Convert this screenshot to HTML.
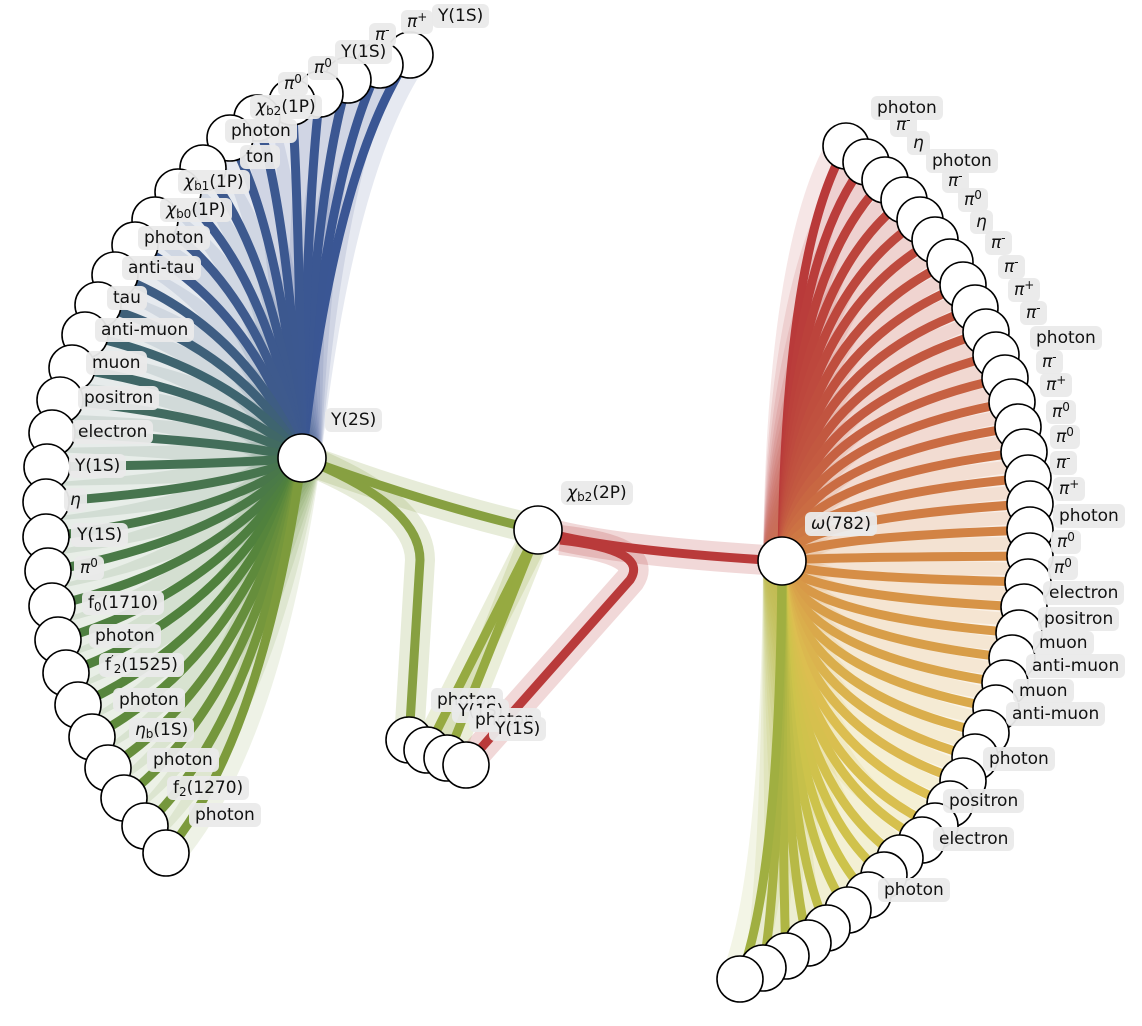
<!DOCTYPE html>
<html><head><meta charset="utf-8"><style>
body{margin:0;background:#fff;}
#w{position:relative;width:1142px;height:1026px;overflow:hidden;font-family:"DejaVu Sans","Liberation Sans",sans-serif;}
svg{position:absolute;left:0;top:0;}
.l{position:absolute;background:rgba(234,234,234,0.95);border-radius:6px;font-size:17px;line-height:24px;height:24px;padding:0 6px;color:#111;white-space:nowrap;}
sub{font-size:12px;vertical-align:-3px;line-height:0}
sup{font-size:12px;vertical-align:6px;line-height:0}
</style></head><body><div id="w">
<svg id="s" width="1142" height="1026" viewBox="0 0 1142 1026">
<g id="bands"></g><g id="lines"></g><g id="nodes"></g>
</svg>
<div class="l" style="left:432px;top:4px">Y(1S)</div>
<div class="l" style="left:401px;top:10px"><i>π</i><sup>+</sup></div>
<div class="l" style="left:369px;top:23px"><i>π</i><sup>-</sup></div>
<div class="l" style="left:335px;top:40px">Y(1S)</div>
<div class="l" style="left:308px;top:56px"><i>π</i><sup>0</sup></div>
<div class="l" style="left:278px;top:72px"><i>π</i><sup>0</sup></div>
<div class="l" style="left:250px;top:95px"><i>χ</i><sub>b2</sub>(1P)</div>
<div class="l" style="left:240px;top:145px">ton</div>
<div class="l" style="left:225px;top:119px">photon</div>
<div class="l" style="left:178px;top:170px"><i>χ</i><sub>b1</sub>(1P)</div>
<div class="l" style="left:160px;top:198px"><i>χ</i><sub>b0</sub>(1P)</div>
<div class="l" style="left:138px;top:226px">photon</div>
<div class="l" style="left:122px;top:256px">anti-tau</div>
<div class="l" style="left:107px;top:286px">tau</div>
<div class="l" style="left:95px;top:318px">anti-muon</div>
<div class="l" style="left:86px;top:351px">muon</div>
<div class="l" style="left:78px;top:386px">positron</div>
<div class="l" style="left:72px;top:420px">electron</div>
<div class="l" style="left:69px;top:454px">Y(1S)</div>
<div class="l" style="left:64px;top:488px"><i>η</i></div>
<div class="l" style="left:71px;top:523px">Y(1S)</div>
<div class="l" style="left:74px;top:556px"><i>π</i><sup>0</sup></div>
<div class="l" style="left:82px;top:591px">f<sub>0</sub>(1710)</div>
<div class="l" style="left:89px;top:624px">photon</div>
<div class="l" style="left:99px;top:653px">f<sup>′</sup><sub>2</sub>(1525)</div>
<div class="l" style="left:113px;top:688px">photon</div>
<div class="l" style="left:129px;top:718px"><i>η</i><sub>b</sub>(1S)</div>
<div class="l" style="left:147px;top:748px">photon</div>
<div class="l" style="left:167px;top:776px">f<sub>2</sub>(1270)</div>
<div class="l" style="left:189px;top:803px">photon</div>
<div class="l" style="left:325px;top:408px">Y(2S)</div>
<div class="l" style="left:561px;top:481px"><i>χ</i><sub>b2</sub>(2P)</div>
<div class="l" style="left:805px;top:512px"><i>ω</i>(782)</div>
<div class="l" style="left:431px;top:688px">photon</div>
<div class="l" style="left:452px;top:699px">Y(1S)</div>
<div class="l" style="left:469px;top:708px">photon</div>
<div class="l" style="left:489px;top:717px">Y(1S)</div>
</div>
<script>
(function(){
var W=document.getElementById('w');
var rl=[["photon",871,96],["<i>π</i><sup>-</sup>",890,113],["<i>η</i>",907,131],["photon",926,149],["<i>π</i><sup>-</sup>",942,169],["<i>π</i><sup>0</sup>",958,188],["<i>η</i>",970,210],["<i>π</i><sup>-</sup>",985,231],["<i>π</i><sup>-</sup>",998,255],["<i>π</i><sup>+</sup>",1008,278],["<i>π</i><sup>-</sup>",1020,301],["photon",1030,326],["<i>π</i><sup>-</sup>",1036,350],["<i>π</i><sup>+</sup>",1040,373],["<i>π</i><sup>0</sup>",1046,400],["<i>π</i><sup>0</sup>",1050,425],["<i>π</i><sup>-</sup>",1050,451],["<i>π</i><sup>+</sup>",1053,477],["photon",1053,504],["<i>π</i><sup>0</sup>",1051,530],["<i>π</i><sup>0</sup>",1048,556],["electron",1043,581],["positron",1038,607],["muon",1033,631],["anti-muon",1026,654],["muon",1013,679],["anti-muon",1006,702],["photon",983,747],["positron",943,789],["electron",933,827],["photon",878,878]];
rl.forEach(function(a){var d=document.createElement('div');d.className='l';d.style.left=a[1]+'px';d.style.top=a[2]+'px';d.innerHTML=a[0];W.appendChild(d);});
})();
var NS="http://www.w3.org/2000/svg";
function el(p,t,at){var e=document.createElementNS(NS,t);for(var k in at)e.setAttribute(k,at[k]);document.getElementById(p).appendChild(e);return e;}
function lerp(a,b,t){return a+(b-a)*t;}
function grad(stops,t){for(var i=0;i<stops.length-1;i++){if(t<=stops[i+1][0]){var u=(t-stops[i][0])/(stops[i+1][0]-stops[i][0]);var c=[0,1,2].map(function(j){return Math.round(lerp(stops[i][1][j],stops[i+1][1][j],u));});return 'rgb('+c.join(',')+')';}}var c=stops[stops.length-1][1];return 'rgb('+c.join(',')+')';}
var L=[[410,55],[380,65],[348,80],[320,94],[292,102],[257,118],[230,138],[203,168],[178,192],[155,220],[135,245],[115,275],[98,305],[85,335],[72,368],[60,400],[52,433],[47,467],[46,502],[46,537],[48,571],[52,606],[58,640],[66,673],[78,705],[92,737],[108,768],[124,798],[145,826],[166,853]];
var R=[[846,146],[866,162],[885,180],[904,200],[920,220],[935,240],[950,262],[963,285],[975,308],[986,332],[996,355],[1005,378],[1012,402],[1018,427],[1024,452],[1028,478],[1030,504],[1030,530],[1030,556],[1028,582],[1024,607],[1019,633],[1012,658],[1005,683],[996,708],[986,733],[975,757],[963,781],[950,804],[935,826],[922,840],[900,858],[884,875],[868,895],[848,910],[827,928],[808,943],[786,956],[763,968],[740,979]];
var LS=[[0,[58,86,148]],[0.35,[62,90,140]],[0.45,[62,100,110]],[0.6,[70,115,80]],[0.8,[80,130,60]],[1,[125,155,60]]];
var RS=[[0,[185,58,58]],[0.25,[195,90,65]],[0.5,[215,145,70]],[0.72,[220,190,80]],[0.85,[205,195,75]],[1,[160,175,65]]];
function edge(p,q,col,ctl){var d='M'+p[0]+','+p[1]+' Q'+ctl[0]+','+ctl[1]+' '+q[0]+','+q[1];
el('bands','path',{d:d,stroke:col,'stroke-width':38,fill:'none','stroke-opacity':0.13,'stroke-linecap':'round'});
el('lines','path',{d:d,stroke:col,'stroke-width':9,fill:'none'});}
var Y2=[302,458],CB=[538,530],OM=[782,561];
L.forEach(function(q,i){var t=i/(L.length-1);edge(Y2,q,grad(LS,t),[Y2[0]+(q[0]-Y2[0])*0.3,Y2[1]+(q[1]-Y2[1])*0.72]);});
R.forEach(function(q,i){var t=i/(R.length-1);edge(OM,q,grad(RS,t),[OM[0]+(q[0]-OM[0])*0.05,OM[1]+(q[1]-OM[1])*0.75]);});
function P(d,col){el('bands','path',{d:d,stroke:col,'stroke-width':30,fill:'none','stroke-opacity':0.2});el('lines','path',{d:d,stroke:col,'stroke-width':9,fill:'none'});}
P('M302,458 Q430,505 538,530','rgb(135,160,65)');
P('M302,458 Q420,505 420,560 L409,740','rgb(135,160,65)');
P('M538,530 L427,750','rgb(150,170,65)');
P('M538,530 L447,758','rgb(150,170,65)');
P('M538,530 Q600,550 782,561','rgb(185,58,58)');
P('M560,540 Q650,550 630,580 L466,765','rgb(185,58,58)');
L.concat(R).concat([[409,740],[427,750],[447,758],[466,765]]).forEach(function(q){el('nodes','circle',{cx:q[0],cy:q[1],r:23,fill:'#fff',stroke:'#000','stroke-width':1.6});});
[Y2,CB,OM].forEach(function(q){el('nodes','circle',{cx:q[0],cy:q[1],r:24,fill:'#fff',stroke:'#000','stroke-width':1.6});});
</script>
</body></html>
